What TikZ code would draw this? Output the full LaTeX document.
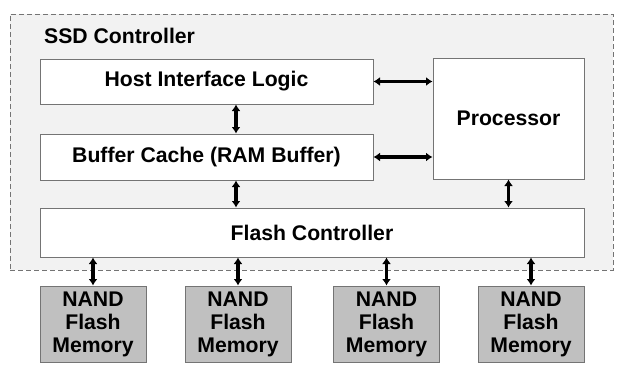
\documentclass[tikz,border=0pt]{standalone}
\usepackage{fontspec}
\setmainfont{Liberation Sans}
\usepackage{tikz}
\usetikzlibrary{arrows.meta}
\usetikzlibrary{positioning,calc}
\definecolor{ctrlbg}{HTML}{F2F2F2}
\definecolor{boxline}{HTML}{747474}
\definecolor{nandbg}{HTML}{C0C0C0}
\tikzstyle{blk}=[rectangle,draw=boxline,fill=white,line width=1pt,inner sep=0pt,align=center,font=\fontsize{21.2}{23}\selectfont\bfseries]
\tikzstyle{nand}=[blk,fill=nandbg,minimum width=106pt,minimum height=76pt]
\tikzset{biarrow/.style={{Latex[length=6.5pt,width=9pt]}-{Latex[length=6.5pt,width=9pt]},line width=3.2pt,black}}

\begin{document}
\begin{tikzpicture}[x=1pt,y=-1pt]
    \useasboundingbox (0,0) rectangle (621,373);
    % controller frame
    \node [draw=boxline,dashed,dash pattern=on 5pt off 3pt,fill=ctrlbg,line width=0.9pt,minimum width=603pt,minimum height=256pt,inner sep=0pt] (SSD) at (311.5,142) {};
    \node [anchor=base west,inner sep=0pt,font=\fontsize{21.2}{23}\selectfont\bfseries] (SSDLabel) at (44,43) {SSD Controller};

    \node [blk,minimum width=333pt,minimum height=45pt] (Host) at (206.5,81.5) {Host Interface Logic};
    \node [blk,minimum width=333pt,minimum height=46pt] (Buffer) at (206.5,157) {Buffer Cache (RAM Buffer)};
    \node [blk,minimum width=151pt,minimum height=121pt] (Proc) at (508.5,118.5) {Processor};
    \node [blk,minimum width=544pt,minimum height=49pt] (Flash) at (312,232.5) {Flash Controller};

    \node [nand] (NAND A) at (93,324) {NAND\\Flash\\Memory};
    \node [nand] (NAND B) at (238,324) {NAND\\Flash\\Memory};
    \node [nand] (NAND C) at (386.5,324) {NAND\\Flash\\Memory};
    \node [nand] (NAND D) at (531,324) {NAND\\Flash\\Memory};

    \draw [biarrow] (Host.east) -- (Host.east -| Proc.west);
    \draw [biarrow] (Buffer.east) -- (Buffer.east -| Proc.west);
    \draw [biarrow] ([xshift=29.5pt]Host.south) -- ([xshift=29.5pt]Buffer.north);
    \draw [biarrow] ([xshift=29.5pt]Buffer.south) -- ([xshift=29.5pt]Buffer.south |- Flash.north);
    \draw [biarrow] (Proc.south) -- (Proc.south |- Flash.north);

    \draw [biarrow] (NAND A.north |- Flash.south) -- (NAND A.north);
    \draw [biarrow] (NAND B.north |- Flash.south) -- (NAND B.north);
    \draw [biarrow] (NAND C.north |- Flash.south) -- (NAND C.north);
    \draw [biarrow] (NAND D.north |- Flash.south) -- (NAND D.north);
\end{tikzpicture}
\end{document}
